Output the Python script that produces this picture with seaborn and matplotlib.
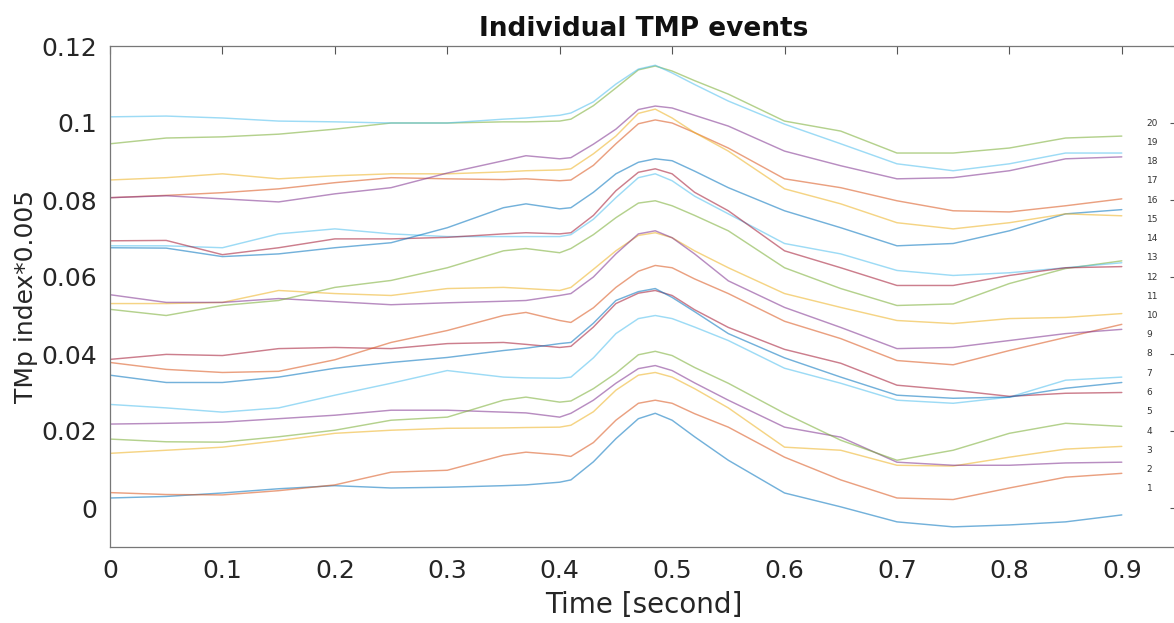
import matplotlib
matplotlib.use("Agg")
import matplotlib.pyplot as plt
import numpy as np
import pandas as pd
import seaborn as sns
from matplotlib.ticker import FuncFormatter

# ---------------- data ----------------
time_s = [0, .05, .1, .15, .2, .25, .3, .35, .37, .4, .41, .43, .45, .47, .485,
          .5, .52, .55, .6, .65, .7, .75, .8, .85, .9]

event_01 = [0.0026, 0.0030, 0.0039, 0.0050, 0.0058, 0.0052, 0.0054, 0.0058, 0.0060, 0.0067, 0.0073, 0.0120, 0.0180,
            0.0232, 0.0246, 0.0228, 0.0185, 0.0124, 0.0039, 0.0003, -0.0036, -0.0049, -0.0044, -0.0036, -0.0018]
event_02 = [0.0040, 0.0035, 0.0034, 0.0045, 0.0060, 0.0093, 0.0098, 0.0137, 0.0145, 0.0138, 0.0134, 0.0170, 0.0228,
            0.0272, 0.0280, 0.0272, 0.0245, 0.0210, 0.0132, 0.0073, 0.0026, 0.0022, 0.0052, 0.0080, 0.0090]
event_03 = [0.0142, 0.0150, 0.0158, 0.0175, 0.0194, 0.0202, 0.0207, 0.0208, 0.0209, 0.0210, 0.0215, 0.0250, 0.0306,
            0.0345, 0.0352, 0.0340, 0.0310, 0.0260, 0.0158, 0.0150, 0.0111, 0.0109, 0.0132, 0.0153, 0.0160]
event_04 = [0.0218, 0.0220, 0.0223, 0.0232, 0.0241, 0.0254, 0.0254, 0.0249, 0.0247, 0.0236, 0.0246, 0.0280, 0.0324,
            0.0362, 0.0370, 0.0357, 0.0325, 0.0280, 0.0210, 0.0184, 0.0119, 0.0111, 0.0111, 0.0117, 0.0119]
event_05 = [0.0179, 0.0172, 0.0171, 0.0185, 0.0202, 0.0228, 0.0236, 0.0280, 0.0288, 0.0275, 0.0278, 0.0310, 0.0350,
            0.0398, 0.0407, 0.0396, 0.0365, 0.0324, 0.0246, 0.0176, 0.0124, 0.0150, 0.0194, 0.0220, 0.0212]
event_06 = [0.0269, 0.0260, 0.0249, 0.0260, 0.0293, 0.0324, 0.0357, 0.0340, 0.0338, 0.0337, 0.0340, 0.0390, 0.0453,
            0.0492, 0.0500, 0.0492, 0.0470, 0.0435, 0.0363, 0.0324, 0.0280, 0.0272, 0.0288, 0.0332, 0.0340]
event_07 = [0.0386, 0.0399, 0.0396, 0.0414, 0.0417, 0.0414, 0.0427, 0.0430, 0.0425, 0.0417, 0.0420, 0.0470, 0.0531,
            0.0558, 0.0565, 0.0552, 0.0515, 0.0469, 0.0412, 0.0376, 0.0319, 0.0306, 0.0290, 0.0298, 0.0300]
event_08 = [0.0345, 0.0326, 0.0326, 0.0340, 0.0363, 0.0378, 0.0391, 0.0409, 0.0415, 0.0427, 0.0430, 0.0480, 0.0539,
            0.0562, 0.0570, 0.0547, 0.0510, 0.0453, 0.0390, 0.0340, 0.0293, 0.0285, 0.0288, 0.0311, 0.0326]
event_09 = [0.0378, 0.0360, 0.0352, 0.0355, 0.0385, 0.0430, 0.0461, 0.0500, 0.0508, 0.0487, 0.0482, 0.0520, 0.0573,
            0.0615, 0.0630, 0.0624, 0.0595, 0.0557, 0.0485, 0.0440, 0.0383, 0.0372, 0.0409, 0.0443, 0.0477]
event_10 = [0.0531, 0.0531, 0.0534, 0.0565, 0.0557, 0.0552, 0.0570, 0.0573, 0.0570, 0.0565, 0.0573, 0.0620, 0.0668,
            0.0708, 0.0715, 0.0702, 0.0668, 0.0624, 0.0557, 0.0521, 0.0487, 0.0479, 0.0492, 0.0495, 0.0505]
event_11 = [0.0554, 0.0534, 0.0534, 0.0544, 0.0536, 0.0528, 0.0533, 0.0537, 0.0539, 0.0552, 0.0557, 0.0600, 0.0660,
            0.0712, 0.0720, 0.0702, 0.0660, 0.0590, 0.0521, 0.0469, 0.0414, 0.0417, 0.0435, 0.0453, 0.0464]
event_12 = [0.0516, 0.0500, 0.0526, 0.0539, 0.0573, 0.0591, 0.0624, 0.0668, 0.0674, 0.0663, 0.0674, 0.0710, 0.0754,
            0.0792, 0.0798, 0.0785, 0.0760, 0.0720, 0.0624, 0.0570, 0.0526, 0.0530, 0.0583, 0.0622, 0.0642]
event_13 = [0.0681, 0.0681, 0.0676, 0.0712, 0.0725, 0.0712, 0.0705, 0.0705, 0.0705, 0.0705, 0.0710, 0.0750, 0.0806,
            0.0858, 0.0868, 0.0850, 0.0810, 0.0764, 0.0687, 0.0660, 0.0617, 0.0604, 0.0611, 0.0624, 0.0637]
event_14 = [0.0694, 0.0695, 0.0658, 0.0676, 0.0699, 0.0699, 0.0703, 0.0712, 0.0715, 0.0712, 0.0715, 0.0760, 0.0824,
            0.0872, 0.0881, 0.0868, 0.0820, 0.0772, 0.0668, 0.0624, 0.0578, 0.0578, 0.0604, 0.0624, 0.0627]
event_15 = [0.0676, 0.0675, 0.0653, 0.0660, 0.0676, 0.0689, 0.0728, 0.0780, 0.0790, 0.0777, 0.0780, 0.0820, 0.0868,
            0.0898, 0.0907, 0.0902, 0.0875, 0.0832, 0.0772, 0.0728, 0.0681, 0.0687, 0.0720, 0.0764, 0.0775]
event_16 = [0.0806, 0.0812, 0.0819, 0.0829, 0.0845, 0.0858, 0.0855, 0.0853, 0.0855, 0.0850, 0.0852, 0.0890, 0.0946,
            0.0998, 0.1008, 0.1000, 0.0975, 0.0935, 0.0855, 0.0832, 0.0798, 0.0772, 0.0769, 0.0785, 0.0803]
event_17 = [0.0852, 0.0858, 0.0868, 0.0855, 0.0863, 0.0868, 0.0868, 0.0873, 0.0876, 0.0878, 0.0881, 0.0920, 0.0966,
            0.1025, 0.1036, 0.1013, 0.0975, 0.0927, 0.0829, 0.0790, 0.0741, 0.0725, 0.0741, 0.0764, 0.0759]
event_18 = [0.0806, 0.0811, 0.0803, 0.0795, 0.0816, 0.0832, 0.0870, 0.0902, 0.0915, 0.0907, 0.0910, 0.0945, 0.0984,
            0.1035, 0.1044, 0.1039, 0.1020, 0.0992, 0.0927, 0.0889, 0.0855, 0.0858, 0.0876, 0.0907, 0.0912]
event_19 = [0.0946, 0.0961, 0.0964, 0.0971, 0.0984, 0.1000, 0.1000, 0.1003, 0.1003, 0.1005, 0.1010, 0.1045, 0.1091,
            0.1138, 0.1148, 0.1135, 0.1110, 0.1075, 0.1005, 0.0979, 0.0922, 0.0922, 0.0935, 0.0961, 0.0966]
event_20 = [0.1016, 0.1018, 0.1013, 0.1005, 0.1003, 0.1000, 0.1000, 0.1010, 0.1013, 0.1020, 0.1026, 0.1055, 0.1101,
            0.1140, 0.1150, 0.1130, 0.1100, 0.1057, 0.0997, 0.0946, 0.0894, 0.0876, 0.0894, 0.0922, 0.0922]

events = [event_01, event_02, event_03, event_04, event_05, event_06, event_07, event_08, event_09, event_10,
          event_11, event_12, event_13, event_14, event_15, event_16, event_17, event_18, event_19, event_20]
event_labels = ["1", "2", "3", "4", "5", "6", "7", "8", "9", "10",
                "11", "12", "13", "14", "15", "16", "17", "18", "19", "20"]
label_y = [0.005, 0.010, 0.015, 0.020, 0.025, 0.030, 0.035, 0.040, 0.045, 0.050,
           0.055, 0.060, 0.065, 0.070, 0.075, 0.080, 0.085, 0.090, 0.095, 0.100]
x_ticks = [0, 0.1, 0.2, 0.3, 0.4, 0.5, 0.6, 0.7, 0.8, 0.9]
y_ticks = [0, 0.02, 0.04, 0.06, 0.08, 0.1, 0.12]

matlab_colors = ["#0072BD", "#D95319", "#EDB120", "#7E2F8E", "#77AC30", "#4DBEEE", "#A2142F"]

# ---------------- figure ----------------
sns.set_style("white")
plt.rcParams["font.family"] = ["DejaVu Sans"]

fig = plt.figure(figsize=(11.74, 6.23), dpi=100)
W, H = 1174, 623
left_px, right_px, top_px, bottom_px = 110, 1178, 46, 546.5
ax = fig.add_axes([left_px / W, 1 - bottom_px / H, (right_px - left_px) / W, (bottom_px - top_px) / H])

rows = []
for lab, vals in zip(event_labels, events):
    for t, v in zip(time_s, vals):
        rows.append((t, v, lab))
df = pd.DataFrame(rows, columns=["time", "value", "event"])

palette = {lab: matlab_colors[i % len(matlab_colors)] for i, lab in enumerate(event_labels)}
sns.lineplot(data=df, x="time", y="value", hue="event", palette=palette, estimator=None,
             legend=False, sort=False, linewidth=1.05, alpha=0.55, ax=ax)

ax.set_xlim(0, 0.95)
ax.set_ylim(-0.01, 0.12)
ax.set_xticks(x_ticks)
ax.set_yticks(y_ticks)
ax.xaxis.set_major_formatter(FuncFormatter(lambda v, p: f"{v:g}"))
ax.yaxis.set_major_formatter(FuncFormatter(lambda v, p: f"{v:g}"))
ax.tick_params(axis="both", direction="in", length=6, width=0.8, color="#555555",
               labelsize=18, labelcolor="#262626", top=True, right=True)
ax.tick_params(axis="y", pad=9)
ax.tick_params(axis="x", pad=9)
for sp in ax.spines.values():
    sp.set_color("#777777")
    sp.set_linewidth(0.9)

ax.set_xlabel("Time [second]", fontsize=20, color="#262626", labelpad=6)
ax.set_ylabel("TMp index*0.005", fontsize=18, color="#262626", labelpad=3)
ax.set_title("Individual TMP events", fontsize=19, fontweight="bold", color="#111111", pad=7)

for lab, yv in zip(event_labels, label_y):
    ax.text(0.922, yv, lab, fontsize=6.5, color="#333333", ha="left", va="center")

fig.savefig("out.png", dpi=100)
